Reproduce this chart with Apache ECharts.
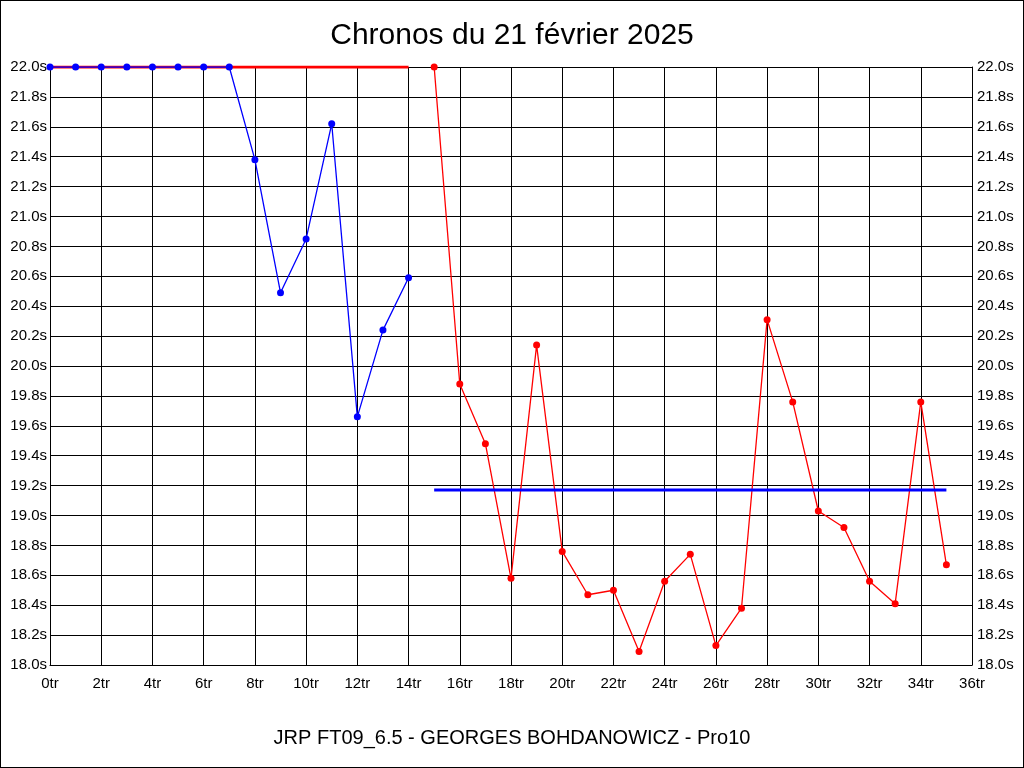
<!DOCTYPE html>
<html>
<head>
<meta charset="utf-8">
<script src="https://cdn.jsdelivr.net/npm/echarts@6/dist/echarts.min.js"></script>
<style>
html,body{margin:0;padding:0;background:#fff;}
#c{width:1024px;height:768px;box-sizing:border-box;border:1px solid #000;}
</style>
</head>
<body>
<div id="c"></div>
<script>
const titleText = 'Chronos du 21 février 2025';
const subtitleText = 'JRP FT09_6.5 - GEORGES BOHDANOWICZ - Pro10';
const blueLaps = [0,1,2,3,4,5,6,7,8,9,10,11,12,13,14];
const blueTimes = [22.0,22.0,22.0,22.0,22.0,22.0,22.0,22.0,21.38,20.49,20.85,21.62,19.66,20.24,20.59];
const redLaps = [15,16,17,18,19,20,21,22,23,24,25,26,27,28,29,30,31,32,33,34,35];
const redTimes = [22.0,19.88,19.48,18.58,20.14,18.76,18.47,18.50,18.09,18.56,18.74,18.13,18.38,20.31,19.76,19.03,18.92,18.56,18.41,19.76,18.67];
const redAvgLaps = [0,14];
const redAvgValue = 22.0;
const blueAvgLaps = [15,35];
const blueAvgValue = 19.17;

const zip = (xs, ys) => xs.map((x,i)=>[x, ys[i]]);
const chart = echarts.init(document.getElementById('c'));
const font = 'Liberation Sans, Arial, sans-serif';
const yAxisBase = {
  type:'value', min:18, max:22, interval:0.2,
  axisLine:{show:true, lineStyle:{color:'#000', width:1}},
  axisTick:{show:false},
  splitLine:{show:true, lineStyle:{color:'#000', width:1}},
  axisLabel:{color:'#000', fontSize:15, fontFamily:font, margin:3,
    formatter:v=>v.toFixed(1)+'s'}
};
chart.setOption({
  backgroundColor:'#fff',
  animation:false,
  title:[
    {text:titleText, left:'center', top:15, textStyle:{fontSize:30, fontWeight:'normal', color:'#000', fontFamily:font}},
    {text:subtitleText, left:'center', top:722, textStyle:{fontSize:20, fontWeight:'normal', color:'#000', fontFamily:font}}
  ],
  grid:{left:49, right:51, top:66, bottom:102, containLabel:false},
  xAxis:{type:'value', min:0, max:36, interval:2,
    axisLine:{show:true, onZero:false, lineStyle:{color:'#000'}},
    axisTick:{show:false},
    splitLine:{show:true, lineStyle:{color:'#000', width:1}},
    axisLabel:{color:'#000', fontSize:15, fontFamily:font, margin:11, formatter:'{value}tr'}
  },
  yAxis:[
    Object.assign({}, yAxisBase, {position:'left'}),
    Object.assign({}, yAxisBase, {position:'right', splitLine:{show:false},
      axisLabel:Object.assign({}, yAxisBase.axisLabel, {margin:5})})
  ],
  series:[
    {type:'line', data:redAvgLaps.map(x=>[x, redAvgValue]), showSymbol:false, symbol:'none',
      lineStyle:{color:'#ff0000', width:3}, z:2},
    {type:'line', data:zip(blueLaps, blueTimes), symbol:'circle', symbolSize:7,
      itemStyle:{color:'#0000ff'}, lineStyle:{color:'#0000ff', width:1.3}, z:3},
    {type:'line', data:zip(redLaps, redTimes), symbol:'circle', symbolSize:7,
      itemStyle:{color:'#ff0000'}, lineStyle:{color:'#ff0000', width:1.3}, z:4},
    {type:'line', data:blueAvgLaps.map(x=>[x, blueAvgValue]), showSymbol:false, symbol:'none',
      lineStyle:{color:'#0000ff', width:3}, z:5}
  ]
});
</script>
</body>
</html>
